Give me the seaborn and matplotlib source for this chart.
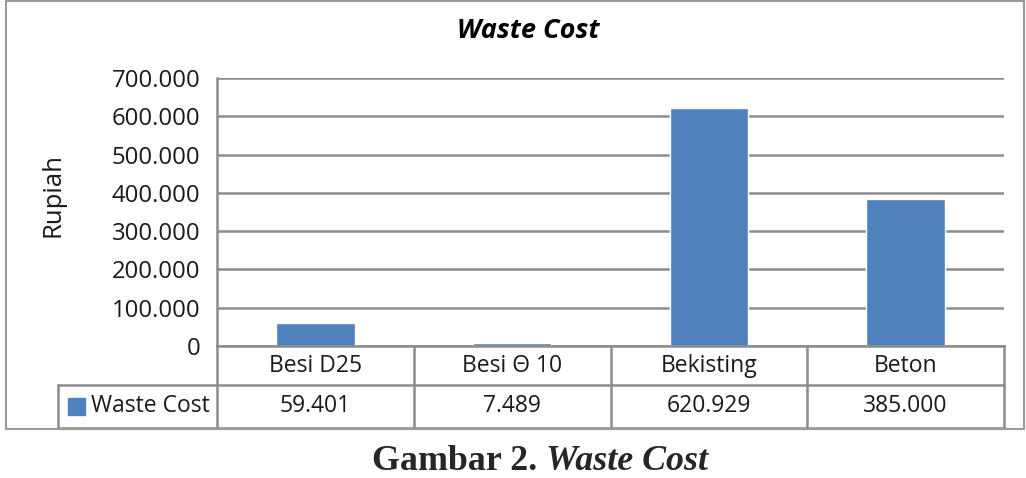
import pandas as pd
import matplotlib.pyplot as plt
import matplotlib.ticker as ticker
import matplotlib.transforms as transforms
from matplotlib.patches import Rectangle
import seaborn as sns

# data
kategori = ['Besi D25', 'Besi Θ 10', 'Bekisting', 'Beton']
waste_cost = [59401, 7489, 620929, 385000]
seri = 'Waste Cost'
y_ticks = [0, 100000, 200000, 300000, 400000, 500000, 600000, 700000]

df = pd.DataFrame({'kategori': kategori, 'biaya': waste_cost})


def rupiah(v, pos=None):
    return f'{int(v):,}'.replace(',', '.')


sns.set_style('white')
plt.rcParams['font.family'] = ['Open Sans', 'DejaVu Sans']

GRID = '#8c8c8c'
BLUE = '#4f81bd'
TXT = '#1a1a1a'
FS = 16.5

fig = plt.figure(figsize=(10.26, 4.78), dpi=100)
ax = fig.add_axes([217 / 1026, 132 / 478, 787 / 1026, 268 / 478])

sns.barplot(data=df, x='kategori', y='biaya', color=BLUE, saturation=1,
            width=0.4, ax=ax)

ax.set_xlim(-0.5, len(kategori) - 0.5)
ax.set_ylim(0, 700000)
ax.set_yticks(y_ticks)
ax.yaxis.set_major_formatter(ticker.FuncFormatter(rupiah))
ax.tick_params(axis='y', length=0, pad=12, labelsize=17.2, colors=TXT)
ax.set_xticks([])
ax.set_xlabel('')
ax.set_ylabel('')

ax.yaxis.grid(True, color=GRID, lw=1.8)
ax.set_axisbelow(True)
for s in ['top', 'right']:
    ax.spines[s].set_visible(False)
for s in ['left', 'bottom']:
    ax.spines[s].set_color(GRID)
    ax.spines[s].set_linewidth(1.8)

# data table under the axis
tr = transforms.blended_transform_factory(ax.transData, ax.transAxes)
r1 = -39 / 268
r2 = -82 / 268
xl = -0.5 - (217 - 58) / (787 / len(kategori))
xr = len(kategori) - 0.5
kw = dict(color=GRID, lw=1.8, transform=tr, clip_on=False)
ax.plot([-0.5, xr], [r1, r1], **kw)
ax.plot([xl, xr], [r2, r2], **kw)
ax.plot([xl, -0.5], [r1, r1], **kw)
ax.plot([xl, xl], [r1, r2], **kw)
for i in range(len(kategori) + 1):
    ax.plot([i - 0.5, i - 0.5], [0, r2], **kw)

for i, (k, v) in enumerate(zip(kategori, waste_cost)):
    ax.text(i, r1 / 2, k, ha='center', va='center', fontsize=FS,
            color=TXT, transform=tr)
    ax.text(i, (r1 + r2) / 2, rupiah(v), ha='center', va='center',
            fontsize=FS, color=TXT, transform=tr)

ax.add_patch(Rectangle((xl + 0.05, (r1 + r2) / 2 - 0.032), 0.088, 0.064,
                       color=BLUE, transform=tr, clip_on=False))
ax.text(xl + 0.17, (r1 + r2) / 2, seri, ha='left', va='center', fontsize=FS,
        color=TXT, transform=tr)

# outer chart border
fig.add_artist(Rectangle((6 / 1026, 49 / 478), 1018 / 1026, 428 / 478,
                         fill=False, ec='#9a9a9a', lw=1.5,
                         transform=fig.transFigure))

fig.text(53 / 1026, 1 - 195 / 478, 'Rupiah', rotation=90, ha='center',
         va='center', fontsize=18.5, color=TXT)

fig.text(528 / 1026, 1 - 31 / 478, 'Waste Cost', ha='center', va='center',
         fontsize=19.5, fontweight='bold', fontstyle='italic', color='black')

fig.text(546 / 1026, 1 - 470 / 478, r'Gambar 2. ', ha='right',
         va='baseline', fontsize=25.8, fontweight='bold',
         family='Liberation Serif')
fig.text(546 / 1026, 1 - 470 / 478, 'Waste Cost', ha='left', va='baseline',
         fontsize=25.8, fontweight='bold', fontstyle='italic',
         family='Liberation Serif')

plt.savefig('out.png', dpi=100)
